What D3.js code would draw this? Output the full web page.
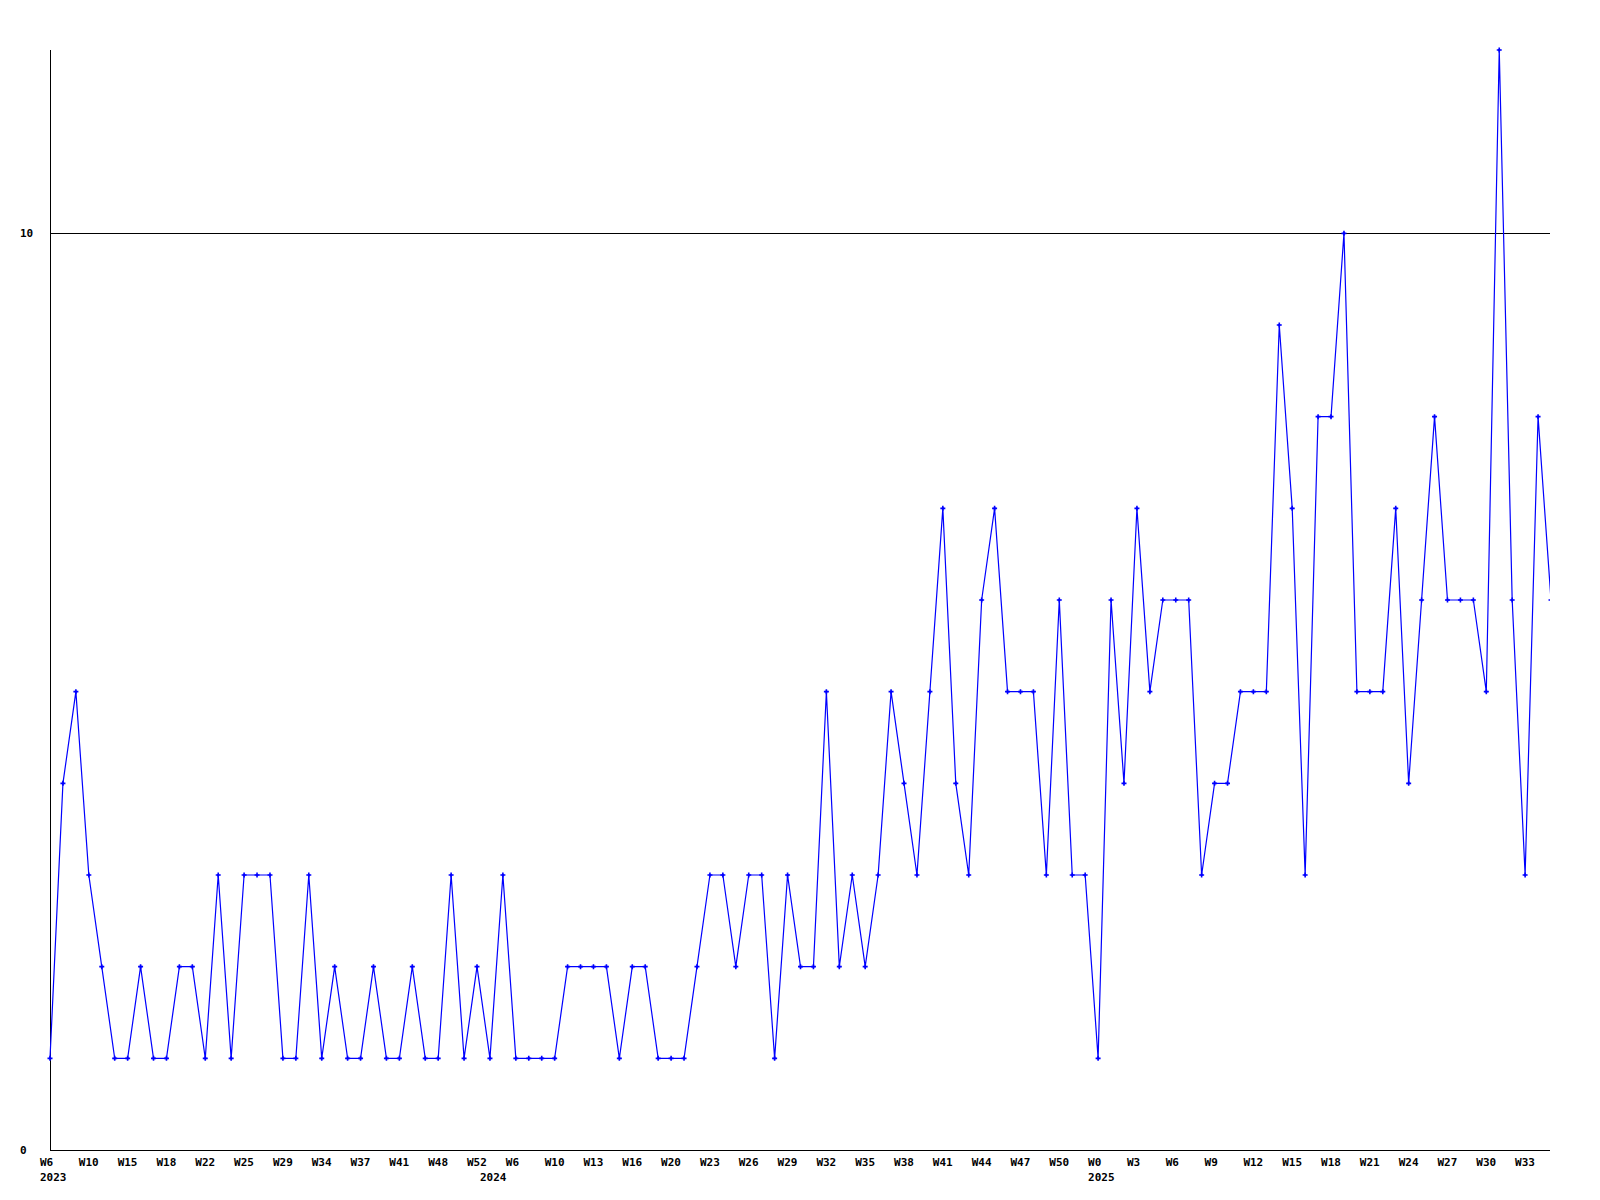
<!DOCTYPE html>
<html>
<head>
<meta charset="utf-8">
<script src="https://cdn.jsdelivr.net/npm/d3@7"></script>
<style>
  html, body { margin: 0; padding: 0; background: #ffffff; }
  svg { display: block; }
  text { font-family: "DejaVu Sans Mono", "Liberation Mono", monospace; font-weight: bold; font-size: 11px; fill: #000; }
</style>
</head>
<body>
<script>
// ---- data ----
const values = [
  1,4,5,3,2,1,1,2,1,1,2,2,1,3,1,3,3,3,1,1,3,1,2,1,1,2,1,1,2,1,1,3,1,2,1,3,1,1,
  1,1,2,2,2,2,1,2,2,1,1,1,2,3,3,2,3,3,1,3,2,2,5,2,3,2,3,5,4,3,5,7,4,3,6,7,5,5,5,3,6,3,3,
  1,6,4,7,5,6,6,6,3,4,4,5,5,5,9,7,3,8,8,10,5,5,5,7,4,6,8,6,6,6,5,12,6,3,8,6
];
const weekLabelStep = 3;
const weekLabels = ["W6","W10","W15","W18","W22","W25","W29","W34","W37","W41","W48","W52",
  "W6","W10","W13","W16","W20","W23","W26","W29","W32","W35","W38","W41","W44","W47","W50",
  "W0","W3","W6","W9","W12","W15","W18","W21","W24","W27","W30","W33"];
const yearLabelIndex = [0, 34, 81];
const yearLabels = ["2023", "2024", "2025"];
const yTicks = [0, 10];
const yMax = 12;

(function () {
  // ---- layout ----
  const W = 1600, H = 1200;
  const mLeft = 50, mRight = 1550, mTop = 50, mBottom = 1150;

  const svg = d3.select("body").append("svg").attr("width", W).attr("height", H);

  const x = d3.scaleLinear().domain([0, values.length - 1]).range([mLeft, mRight + 1]);
  const y = d3.scaleLinear().domain([0, yMax]).range([mBottom, mTop]);

  svg.append("defs").append("clipPath").attr("id", "plot")
    .append("rect").attr("x", mLeft - 3).attr("y", mTop - 5)
    .attr("width", mRight - mLeft + 3).attr("height", mBottom - mTop + 10);

  // gridline at 10 and axes
  const g = svg.append("g").attr("shape-rendering", "crispEdges");
  yTicks.filter(t => t !== 0).forEach(t => {
    g.append("line").attr("x1", mLeft).attr("x2", mRight)
      .attr("y1", Math.round(y(t)) + 0.5).attr("y2", Math.round(y(t)) + 0.5)
      .attr("stroke", "#000").attr("stroke-width", 1);
  });
  g.append("line").attr("x1", mLeft + 0.5).attr("x2", mLeft + 0.5).attr("y1", mTop).attr("y2", mBottom + 0.5)
    .attr("stroke", "#000");
  g.append("line").attr("x1", mLeft).attr("x2", mRight).attr("y1", mBottom + 0.5).attr("y2", mBottom + 0.5)
    .attr("stroke", "#000");

  // y labels
  svg.selectAll("text.ylab").data(yTicks).enter().append("text")
    .attr("class", "ylab")
    .attr("x", 20).attr("y", d => y(d) + 4)
    .text(d => d);

  // x week labels
  svg.selectAll("text.wlab").data(weekLabels).enter().append("text")
    .attr("class", "wlab")
    .attr("x", (d, i) => x(i * weekLabelStep) - 10)
    .attr("y", mBottom + 16)
    .text(d => d);

  // year labels
  svg.selectAll("text.yrlab").data(yearLabels).enter().append("text")
    .attr("class", "yrlab")
    .attr("x", (d, i) => x(yearLabelIndex[i]) - 10)
    .attr("y", mBottom + 31)
    .text(d => d);

  // line
  const plot = svg.append("g").attr("clip-path", "url(#plot)");
  plot.append("path")
    .datum(values)
    .attr("fill", "none")
    .attr("stroke", "#0000ff")
    .attr("stroke-width", 1.2)
    .attr("d", d3.line().x((d, i) => x(i)).y(d => y(d)));

  // markers (small crosses)
  plot.selectAll("path.mk").data(values).enter().append("path")
    .attr("class", "mk")
    .attr("transform", (d, i) => `translate(${x(i)},${y(d)})`)
    .attr("d", "M-2.5,0H2.5M0,-2.5V2.5")
    .attr("stroke", "#0000ff")
    .attr("stroke-width", 1.6)
    .attr("fill", "none");
  plot.selectAll("rect.mk").data(values).enter().append("rect")
    .attr("class", "mk")
    .attr("x", (d, i) => x(i) - 1).attr("y", d => y(d) - 1)
    .attr("width", 2).attr("height", 2)
    .attr("fill", "#0000ff");
})();
</script>
</body>
</html>
